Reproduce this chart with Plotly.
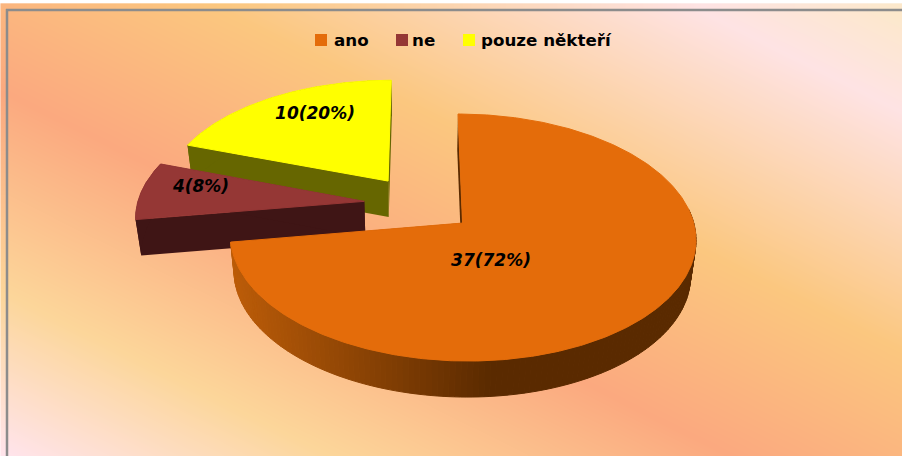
import numpy as np
import plotly.graph_objects as go

# ---- data ----
categories = ["ano", "ne", "pouze někteří"]
values = [37, 4, 10]
percents = [72, 8, 20]

# ---- style ----
top_colors = ["#E46C0A", "#953735", "#FFFF00"]
wall_colors = ["#5A2A00", "#3F1515", "#666600"]
FONT = "DejaVu Sans"
W, H = 902, 456

# projection constants (pseudo-3D view of the exploded pie)
X0, Y0, AX, KY, P = 419.5, 204.0, 227.0, 117.4, 0.115
EXPLODE, DEPTH, SHRINK = 0.245, 36.0, 0.98
label_xy = [(491, 262), (201, 188), (315, 115)]
legend_marker_x = [321, 402, 469]
legend_text_x = [334, 412, 481]
LEGEND_Y = 40
LEGEND_TEXT_Y = 41.5


def project(u, v, low=False):
    u, v = np.asarray(u, float), np.asarray(v, float)
    d = 1 + P * v
    x = X0 + AX * u / d
    y = Y0 - KY * v / d
    if low:
        x = X0 + (x - X0) * SHRINK
        y = y + DEPTH
    return x, y


def poly(x, y, color, lw=0.6):
    return go.Scatter(x=list(x), y=list(y), mode="lines", fill="toself", fillcolor=color,
                      line=dict(color=color, width=lw), hoverinfo="skip", showlegend=False)


def mix(c1, c2, t):
    a = [int(c1[i:i + 2], 16) for i in (1, 3, 5)]
    b = [int(c2[i:i + 2], 16) for i in (1, 3, 5)]
    return "rgb(%d,%d,%d)" % tuple(round(p + (q - p) * t) for p, q in zip(a, b))


fig = go.Figure()

# background gradient (diagonal bands)
bx = np.array([8.0, 902.0])
by = np.array([11.0, 456.0])
stops_t = np.array([-450, -340, -100, 90, 290, 452], float)
stops_c = ["#FCE9C8", "#FEE3E4", "#FBC77F", "#FBA97F", "#FCD69A", "#FFE4EC"]
gx = np.linspace(bx[0], bx[1], 60)
gy = np.linspace(by[0], by[1], 30)
gz = np.array([[yy - 0.5 * xx for xx in gx] for yy in gy])
scale = [[float((t - stops_t[0]) / (stops_t[-1] - stops_t[0])), c] for t, c in zip(stops_t, stops_c)]
fig.add_trace(go.Heatmap(x=gx, y=gy, z=gz, zmin=stops_t[0], zmax=stops_t[-1], colorscale=scale,
                         zsmooth="best", showscale=False, hoverinfo="skip"))

# slices
total = sum(values)
fracs = np.array(values) / total
starts = np.concatenate([[0], np.cumsum(fracs)[:-1]]) * 2 * np.pi
ends = np.cumsum(fracs) * 2 * np.pi

for i in [2, 1, 0]:
    th = np.linspace(starts[i], ends[i], 401)
    mid = (starts[i] + ends[i]) / 2
    cu, cv = EXPLODE * np.sin(mid), EXPLODE * np.cos(mid)
    au, av = cu + np.sin(th), cv + np.cos(th)
    tx, ty = project(au, av)
    bx_, by_ = project(au, av, True)
    ax_, ay_ = project(cu, cv)
    alx, aly = project(cu, cv, True)
    # radial walls
    for j in (0, -1):
        fig.add_trace(poly([ax_, tx[j], bx_[j], alx, ax_], [ay_, ty[j], by_[j], aly, ay_], wall_colors[i], 0))
    # outer wall
    if i == 0:
        n = len(th)
        step = 2
        xmin, xsplit = bx_.min(), 490.0
        for k in range(0, n - step, step):
            if np.cos(th[k]) > 0.12:      # back of the rim is hidden by the top face
                continue
            xm = 0.5 * (bx_[k] + bx_[k + step])
            f = min(max((xm - xmin) / (xsplit - xmin), 0), 1)
            col = mix("#BC5C08", wall_colors[0], f)
            fig.add_trace(poly(
                list(tx[k:k + step + 1]) + list(bx_[k:k + step + 1][::-1]) + [tx[k]],
                list(ty[k:k + step + 1]) + list(by_[k:k + step + 1][::-1]) + [ty[k]], col, 1.0))
    else:
        fig.add_trace(poly(list(tx) + list(bx_[::-1]) + [tx[0]],
                           list(ty) + list(by_[::-1]) + [ty[0]], wall_colors[i], 0))
    # top face
    fig.add_trace(poly([ax_] + list(tx) + [ax_], [ay_] + list(ty) + [ay_], top_colors[i], 1.0))

# data labels
fig.add_trace(go.Scatter(
    x=[p[0] for p in label_xy], y=[p[1] for p in label_xy], mode="text",
    text=[f"{v}({q}%)" for v, q in zip(values, percents)],
    textfont=dict(family=FONT, size=17, color="black", weight="bold", style="italic"),
    textposition="middle center", hoverinfo="skip", showlegend=False))

# legend
fig.add_trace(go.Scatter(
    x=legend_marker_x, y=[LEGEND_Y] * 3, mode="markers",
    marker=dict(symbol="square", size=12, color=top_colors, line=dict(width=0)),
    hoverinfo="skip", showlegend=False))
fig.add_trace(go.Scatter(
    x=legend_text_x, y=[LEGEND_TEXT_Y] * 3, mode="text", text=categories,
    textfont=dict(family=FONT, size=16.7, color="black", weight="bold"),
    textposition="middle right", hoverinfo="skip", showlegend=False))

# chart frame
fig.add_shape(type="line", x0=7, x1=7, y0=9, y1=H, line=dict(color="#8C8C8C", width=2.5))
fig.add_shape(type="line", x0=6, x1=W, y0=10, y1=10, line=dict(color="#8C8C8C", width=2.5))

fig.update_layout(
    width=W, height=H, margin=dict(l=0, r=0, t=0, b=0),
    paper_bgcolor="white", plot_bgcolor="white", showlegend=False,
    xaxis=dict(range=[0, W], visible=False, fixedrange=True),
    yaxis=dict(range=[H, 0], visible=False, fixedrange=True),
)
fig.write_html("out.html", config={"displayModeBar": False},
               post_script="document.body.style.margin='0';document.body.style.overflow='hidden';")
